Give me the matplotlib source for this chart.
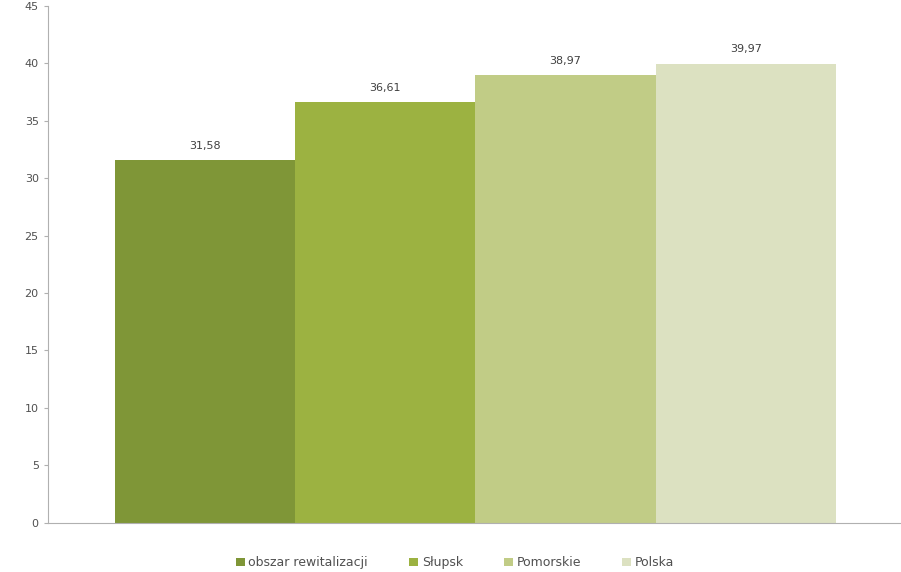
import matplotlib.pyplot as plt

series = ["obszar rewitalizacji", "Słupsk", "Pomorskie", "Polska"]
values = [31.58, 36.61, 38.97, 39.97]
colors = ["#7f9637", "#9cb241", "#c1cc86", "#dce1c1"]
yticks = [0, 5, 10, 15, 20, 25, 30, 35, 40, 45]

fig = plt.figure(figsize=(9.01, 5.72), dpi=100)
ax = fig.add_axes([0.053, 0.086, 0.946, 0.904])

positions = range(len(values))
bars = ax.bar(positions, values, width=1.0, color=colors, label=series)

for x, v in zip(positions, values):
    ax.text(x, v + 0.8, f"{v:.2f}".replace(".", ","), ha="center", va="bottom",
            fontsize=8, color="#404040")

ax.set_xlim(-0.872, 3.856)
ax.set_ylim(0, 45)
ax.set_yticks(yticks)
ax.set_xticks([])
ax.tick_params(axis="y", labelsize=8, labelcolor="#505050", color="#b0b0b0", length=3)
for side in ["top", "right"]:
    ax.spines[side].set_visible(False)
for side in ["left", "bottom"]:
    ax.spines[side].set_color("#b0b0b0")

fig.legend(handles=bars, labels=series, loc="center", bbox_to_anchor=(0.505, 0.016),
           ncol=4, frameon=False, fontsize=9, handlelength=0.7, handleheight=0.7,
           handletextpad=0.3, columnspacing=3.3, labelcolor="#505050")

fig.savefig("out.png", dpi=100)
